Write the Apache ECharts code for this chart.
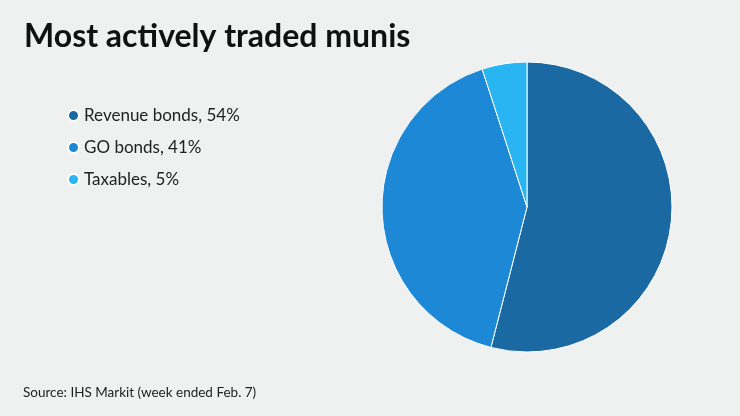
<!DOCTYPE html>
<html><head><meta charset="utf-8">
<script src="https://cdn.jsdelivr.net/npm/echarts@6/dist/echarts.min.js"></script>
<style>html,body{margin:0;padding:0;background:#eff0f0}#c{width:740px;height:416px}</style>
</head><body><div id="c"></div>
<script>
const categories = ["Revenue bonds", "GO bonds", "Taxables"];
const values = [54, 41, 5];
const colors = ["#1a69a3", "#1d88d6", "#28b5f1"];
const chart = echarts.init(document.getElementById('c'));
const valMap = {};
categories.forEach((c,i)=>valMap[c]=values[i]);
chart.setOption({
  backgroundColor: '#eff0f0',
  title: [{text: 'Most actively traded munis', left: 19, top: 16,
    textStyle: {fontFamily: 'Lato', fontWeight: 'bold', fontSize: 32, color: '#111'}},
    {text: 'Source: IHS Markit (week ended Feb. 7)', left: 18, top: 381,
    textStyle: {fontFamily: 'Lato', fontWeight: 'normal', fontSize: 13.5, color: '#222'}}],
  legend: {orient: 'vertical', left: 62, top: 102, itemGap: 15, icon: 'circle',
    itemWidth: 11, itemHeight: 11,
    textStyle: {fontFamily: 'Lato', fontSize: 17, color: '#222'},
    formatter: n => n + ', ' + valMap[n] + '%', data: categories},
  series: [{type: 'pie', center: [527, 207], radius: 145, startAngle: 90, clockwise: true,
    label: {show: false}, labelLine: {show: false}, silent: true,
    itemStyle: {borderColor: '#fff', borderWidth: 1},
    data: categories.map((c,i)=>({name: c, value: values[i], itemStyle: {color: colors[i]}}))}]
});
</script></body></html>
